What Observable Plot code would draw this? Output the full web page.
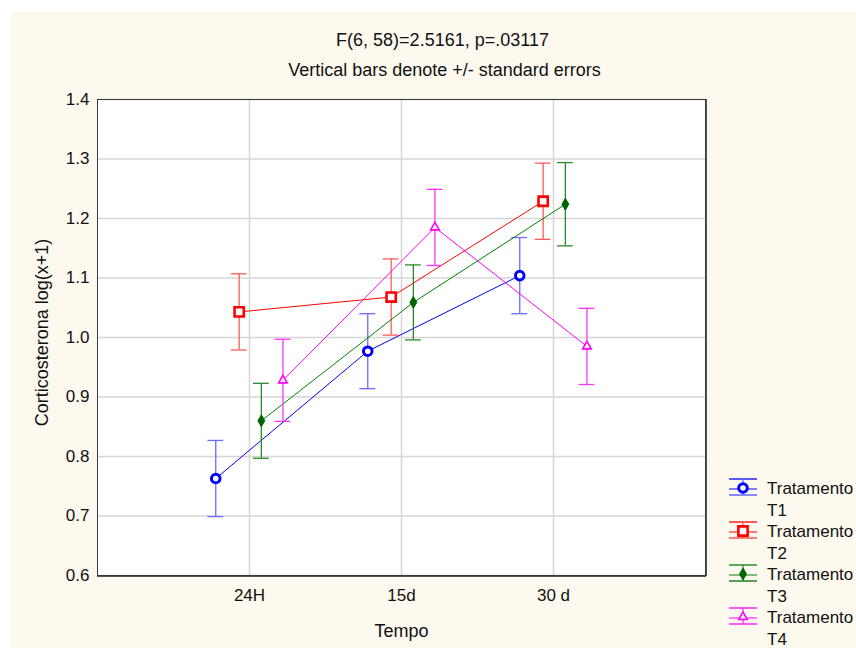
<!DOCTYPE html>
<html>
<head>
<meta charset="utf-8">
<script src="https://cdn.jsdelivr.net/npm/d3@7"></script>
<script src="https://cdn.jsdelivr.net/npm/@observablehq/plot@0.6"></script>
<style>
  html, body { margin: 0; padding: 0; background: #ffffff; }
  #bg { position: absolute; left: 11px; top: 12px; width: 845px; height: 636px; background: #fdf9ef; }
  #chart { position: absolute; left: 0; top: 0; }
  #chart svg { background: transparent; font-family: "Liberation Sans", Arial, sans-serif; }
</style>
</head>
<body>
<div id="bg"></div>
<div id="chart"></div>
<script>
// ---- data ----
const categories = ["24H", "15d", "30 d"];
const groups = ["T1", "T2", "T3", "T4"];
const groupLabels = ["Tratamento T1", "Tratamento T2", "Tratamento T3", "Tratamento T4"];
const meanT1 = [0.763, 0.977, 1.104];
const meanT2 = [1.043, 1.068, 1.229];
const meanT3 = [0.860, 1.059, 1.224];
const meanT4 = [0.928, 1.185, 0.985];
const seT1 = [0.064, 0.063, 0.064];
const seT2 = [0.064, 0.064, 0.064];
const seT3 = [0.063, 0.063, 0.070];
const seT4 = [0.069, 0.064, 0.064];
const yTicks = [0.6, 0.7, 0.8, 0.9, 1.0, 1.1, 1.2, 1.3, 1.4];
const titleText = "F(6, 58)=2.5161, p=.03117";
const subtitleText = "Vertical bars denote +/- standard errors";
const xLabel = "Tempo";
const yLabel = "Corticosterona log(x+1)";

// ---- styles ----
const lineColors = ["#0000ff", "#ff0000", "#008000", "#ff00ff"];
const barColors = ["#6b6bff", "#ff5a5a", "#2a8a2a", "#ff33ff"];
const markColors = ["#0000ff", "#ff0000", "#006400", "#ff00ff"];
const symbols = ["circle", "square", "diamond", "triangle"];
const symR = [4.3, 5.2, 3.6, 3.2];
const symSW = [3, 2.6, 1, 1.6];
const offsets = [-0.222, -0.068, 0.078, 0.22];
const capHalf = 0.052;

const means = [meanT1, meanT2, meanT3, meanT4];
const ses = [seT1, seT2, seT3, seT4];
const rows = [];
groups.forEach((g, gi) => {
  categories.forEach((c, ci) => {
    const m = means[gi][ci], s = ses[gi][ci];
    rows.push({group: g, gi, cat: c, x: ci + 1 + offsets[gi], mean: m, lo: m - s, hi: m + s});
  });
});
const bySeries = gi => rows.filter(d => d.gi === gi);

const marks = [
  Plot.frame({fill: "white", stroke: null}),
  Plot.gridY(yTicks, {stroke: "#d6d6d6", strokeOpacity: 1, strokeWidth: 1.5}),
  Plot.gridX([1, 2, 3], {stroke: "#d6d6d6", strokeOpacity: 1, strokeWidth: 1.5}),
  Plot.axisY({ticks: yTicks, tickSize: 0, tickPadding: 8, tickFormat: d3.format(".1f"), fontSize: 17, label: null, fill: "#111"}),
  Plot.axisX({ticks: [1, 2, 3], tickSize: 0, tickPadding: 13, tickFormat: d => categories[d - 1], fontSize: 17, label: null, fill: "#111"})
];

groups.forEach((g, gi) => {
  const data = bySeries(gi);
  marks.push(
    Plot.line(data, {x: "x", y: "mean", stroke: lineColors[gi], strokeWidth: 1}),
    Plot.ruleX(data, {x: "x", y1: "lo", y2: "hi", stroke: barColors[gi], strokeWidth: 1.3}),
    Plot.ruleY(data, {y: "hi", x1: d => d.x - capHalf, x2: d => d.x + capHalf, stroke: barColors[gi], strokeWidth: 1.3}),
    Plot.ruleY(data, {y: "lo", x1: d => d.x - capHalf, x2: d => d.x + capHalf, stroke: barColors[gi], strokeWidth: 1.3})
  );
});
groups.forEach((g, gi) => {
  marks.push(Plot.dot(bySeries(gi), {x: "x", y: "mean", symbol: symbols[gi], r: symR[gi], stroke: markColors[gi], strokeWidth: symSW[gi], fill: gi === 2 ? markColors[gi] : "white"}));
});
marks.push(
  Plot.frame({stroke: "#3a3a3a", strokeWidth: 1}),
  Plot.frame({anchor: "right", stroke: "#555", strokeWidth: 1, dx: 1}),
  Plot.frame({anchor: "bottom", stroke: "#555", strokeWidth: 1, dy: 1}),
  Plot.text([titleText], {frameAnchor: "top", lineAnchor: "middle", dx: 41, dy: -59, fontSize: 18, fill: "#111"}),
  Plot.text([subtitleText], {frameAnchor: "top", lineAnchor: "middle", dx: 43, dy: -29, fontSize: 18, fill: "#111"}),
  Plot.text([xLabel], {frameAnchor: "bottom", lineAnchor: "middle", dy: 56, fontSize: 18, fill: "#111"}),
  Plot.text([yLabel], {frameAnchor: "left", textAnchor: "middle", lineAnchor: "middle", dx: -55, dy: -5, rotate: -90, fontSize: 18, fill: "#111"})
);

const chart = Plot.plot({
  width: 856,
  height: 648,
  marginLeft: 97,
  marginRight: 151,
  marginTop: 99,
  marginBottom: 73,
  style: {background: "transparent", fontFamily: "Liberation Sans, Arial, sans-serif", fontSize: "17px"},
  x: {domain: [0, 4], axis: null},
  y: {domain: [0.6, 1.4], axis: null},
  marks
});
document.getElementById("chart").appendChild(chart);

// ---- legend ----
const svg = d3.select(chart);
const lg = svg.append("g").attr("font-family", "Liberation Sans, Arial, sans-serif").attr("font-size", 17).attr("text-anchor", "start");
const symGen = {circle: d3.symbolCircle, square: d3.symbolSquare, diamond: d3.symbolDiamond, triangle: d3.symbolTriangle};
groups.forEach((g, gi) => {
  const cy = 488 + gi * 43;
  const x0 = 729, x1 = 757, xm = 743;
  const e = lg.append("g");
  e.append("line").attr("x1", x0).attr("x2", x1).attr("y1", cy - 9).attr("y2", cy - 9).attr("stroke", lineColors[gi]).attr("stroke-width", 1.3);
  e.append("line").attr("x1", x0).attr("x2", x1).attr("y1", cy + 7).attr("y2", cy + 7).attr("stroke", barColors[gi]).attr("stroke-width", 1.6);
  e.append("line").attr("x1", x0).attr("x2", x1).attr("y1", cy + 1).attr("y2", cy + 1).attr("stroke", lineColors[gi]).attr("stroke-width", 1);
  e.append("line").attr("x1", xm).attr("x2", xm).attr("y1", cy - 9).attr("y2", cy + 7).attr("stroke", barColors[gi]).attr("stroke-width", 1.3);
  e.append("path").attr("d", d3.symbol(symGen[symbols[gi]], Math.PI * symR[gi] * symR[gi])())
    .attr("transform", `translate(${xm},${cy})`)
    .attr("fill", gi === 2 ? markColors[gi] : "white").attr("stroke", markColors[gi]).attr("stroke-width", symSW[gi]);
  const label = groupLabels[gi].split(" ");
  e.append("text").attr("x", 767).attr("y", cy + 6).attr("fill", "#111").text(label[0]);
  e.append("text").attr("x", 767).attr("y", cy + 28).attr("fill", "#111").text(label[1]);
});
</script>
</body>
</html>
